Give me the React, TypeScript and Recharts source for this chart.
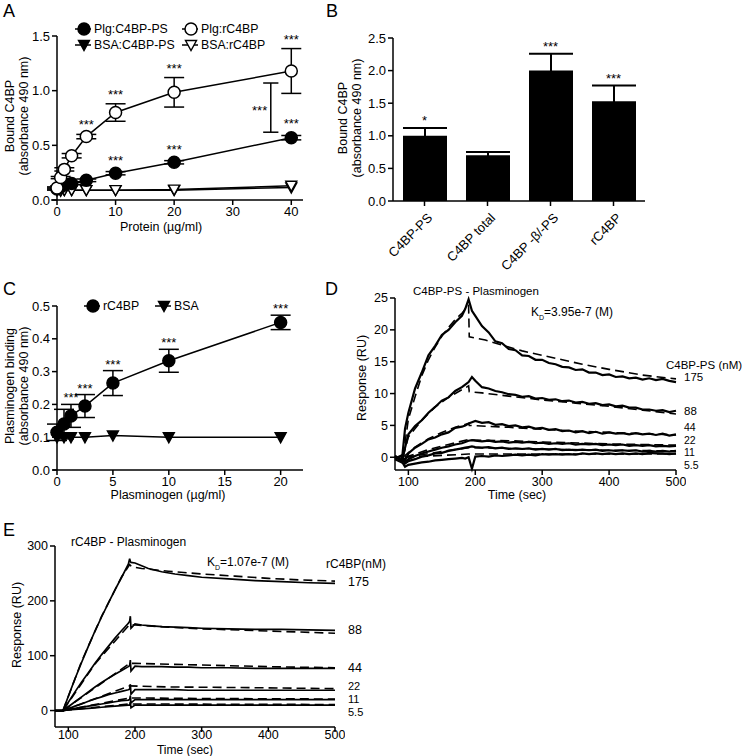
import React from 'react';
import {
  LineChart, Line, XAxis, YAxis, ErrorBar, LabelList, ReferenceLine, ReferenceDot,
  ComposedChart, Bar,
} from 'recharts';

const FONT = '"Liberation Sans", Arial, Helvetica, sans-serif';

// ---- A: C4BP binding to plasminogen (ELISA) ----
const aProtein = [0, 0.625, 1.25, 2.5, 5, 10, 20, 40];
const aPlgC4bpPs = [0.1, 0.12, 0.14, 0.15, 0.18, 0.245, 0.345, 0.57];
const aPlgC4bpPsErr = [0.01, 0.01, 0.01, 0.01, 0.012, 0.015, 0.015, 0.02];
const aPlgC4bpPsSig = ['', '', '', '', '', '***', '***', '***'];
const aPlgRc4bp = [0.11, 0.205, 0.28, 0.405, 0.58, 0.8, 0.985, 1.18];
const aPlgRc4bpErr = [0.01, 0.01, 0.015, 0.02, 0.02, 0.08, 0.135, 0.205];
const aPlgRc4bpSig = ['', '', '', '', '***', '***', '***', '***'];
const aBsaC4bpPs = [0.09, 0.09, 0.09, 0.09, 0.09, 0.09, 0.09, 0.115];
const aBsaRc4bp = [0.09, 0.085, 0.09, 0.09, 0.09, 0.09, 0.095, 0.13];
const aXTicks = [0, 10, 20, 30, 40];
const aYTicks = [0, 0.5, 1, 1.5];
const aBracket = { x: 36.5, low: 0.62, high: 1.07, cap: 1.3, sigX: 34.6, sigY: 0.82 };

// ---- B: C4BP forms ----
const bForms = ['C4BP-PS', 'C4BP total', 'C4BP -β/-PS', 'rC4BP'];
const bBound = [1.0, 0.7, 2.0, 1.53];
const bErr = [0.12, 0.05, 0.26, 0.24];
const bSig = ['*', '', '***', '***'];
const bYTicks = [0, 0.5, 1, 1.5, 2, 2.5];

// ---- C: plasminogen binding to rC4BP ----
const cPlg = [0, 0.625, 1.25, 2.5, 5, 10, 20];
const cRc4bp = [0.115, 0.14, 0.165, 0.195, 0.265, 0.333, 0.45];
const cRc4bpErr = [0.025, 0.045, 0.035, 0.035, 0.038, 0.035, 0.022];
const cRc4bpSig = ['', '', '***', '***', '***', '***', '***'];
const cBsa = [0.1, 0.1, 0.1, 0.1, 0.105, 0.1, 0.1];
const cXTicks = [0, 5, 10, 15, 20];
const cYTicks = [0, 0.1, 0.2, 0.3, 0.4, 0.5];

// ---- D: SPR, C4BP-PS over plasminogen ----
const tD = [80, 90, 95, 100, 110, 120, 130, 140, 150, 160, 170, 180, 185, 190, 195, 200, 210, 220, 230, 240, 250, 260, 270, 280, 290, 300, 310, 320, 330, 340, 350, 360, 370, 380, 390, 400, 410, 420, 430, 440, 450, 460, 470, 480, 490, 500];
const d175 = [-0.3, -0.8, 4.5, 7.0, 10.8, 13.3, 16.0, 17.5, 19.2, 20.0, 21.2, 22.2, 23.3, 24.8, 23.0, 22.2, 20.6, 19.6, 18.2, 17.9, 17.0, 16.8, 16.0, 15.9, 15.3, 15.3, 14.8, 14.6, 14.2, 14.1, 13.7, 13.8, 13.3, 13.3, 12.9, 13.0, 12.6, 12.7, 12.4, 12.5, 12.2, 12.4, 12.1, 12.3, 12.0, 11.8];
const d88 = [0.2, -0.6, 1.5, 3.6, 4.9, 5.8, 7.0, 7.9, 8.9, 9.4, 10.4, 11.0, 11.4, 11.8, 12.6, 12.0, 11.0, 10.8, 10.4, 10.2, 9.9, 9.8, 9.5, 9.6, 9.2, 9.3, 9.0, 9.1, 8.8, 8.9, 8.6, 8.7, 8.4, 8.5, 8.2, 8.3, 8.0, 8.1, 7.8, 7.8, 7.5, 7.5, 7.3, 7.4, 7.1, 7.3];
const d44 = [-0.2, 0.3, -0.5, 0.6, 1.5, 2.1, 2.8, 3.1, 3.6, 3.9, 4.6, 4.8, 5.0, 5.3, 5.5, 5.7, 5.4, 5.5, 5.1, 5.2, 4.9, 5.0, 4.7, 4.8, 4.5, 4.6, 4.3, 4.4, 4.1, 4.2, 3.9, 4.1, 3.8, 4.0, 3.7, 3.9, 3.7, 3.8, 3.6, 3.8, 3.6, 3.7, 3.5, 3.7, 3.4, 3.6];
const d22 = [0.2, -0.4, -0.8, -0.3, 0.2, 0.6, 0.9, 1.2, 1.5, 1.7, 2.0, 2.2, 2.4, 2.6, 2.7, 2.6, 2.5, 2.6, 2.4, 2.5, 2.3, 2.4, 2.3, 2.4, 2.2, 2.3, 2.1, 2.2, 2.1, 2.2, 2.0, 2.1, 2.0, 2.1, 1.9, 2.0, 1.9, 2.0, 1.8, 1.9, 1.8, 1.9, 1.7, 1.8, 1.7, 1.8];
const d11 = [-0.3, 0.2, -1.0, -0.6, -0.3, 0.1, 0.3, 0.6, 0.7, 1.0, 1.2, 1.4, 1.5, 1.6, 1.7, 1.6, 1.5, 1.6, 1.4, 1.5, 1.3, 1.4, 1.3, 1.4, 1.2, 1.3, 1.2, 1.3, 1.1, 1.2, 1.1, 1.2, 1.1, 1.2, 1.0, 1.1, 1.0, 1.1, 1.0, 1.1, 0.9, 1.0, 0.9, 1.0, 0.9, 1.0];
const d5_5 = [0.1, -0.6, -1.5, -1.2, -1.0, -0.8, -0.7, -0.5, -0.4, -0.3, -0.2, -0.1, -0.2, 0.0, -1.8, 0.1, 0.2, 0.1, 0.3, 0.2, 0.3, 0.4, 0.3, 0.4, 0.3, 0.5, 0.4, 0.5, 0.4, 0.5, 0.4, 0.6, 0.5, 0.6, 0.5, 0.6, 0.5, 0.6, 0.5, 0.6, 0.5, 0.7, 0.6, 0.6, 0.5, 0.6];
// fitted curves (1:1 Langmuir)
const dFitT175 = [92, 100, 110, 120, 130, 140, 150, 160, 170, 180, 190, 191, 215, 240, 270, 300, 330, 360, 400, 450, 500];
const dFit175 = [0, 6, 9.5, 12.8, 15.3, 17.3, 19, 20.4, 21.6, 22.6, 23.8, 18.9, 18.4, 17.6, 16.7, 16.0, 15.3, 14.6, 13.8, 12.9, 12.3];
const dFitT88 = [92, 100, 120, 140, 160, 180, 190, 191, 210, 250, 300, 350, 400, 450, 500];
const dFit88 = [0, 3.2, 5.8, 7.9, 9.4, 10.6, 11.2, 10.3, 10.1, 9.6, 9.0, 8.5, 8.0, 7.4, 6.8];
const dFitT44 = [92, 110, 130, 150, 170, 190, 191, 250, 300, 350, 400, 450, 500];
const dFit44 = [0, 1.6, 2.9, 3.9, 4.7, 5.3, 5.0, 4.7, 4.4, 4.1, 3.9, 3.7, 3.5];
const dFitT22 = [95, 130, 160, 190, 191, 250, 300, 400, 500];
const dFit22 = [0, 1.2, 2.0, 2.8, 2.7, 2.6, 2.4, 2.1, 1.9];
const dFitT11 = [95, 150, 190, 191, 300, 400, 500];
const dFit11 = [0, 0.9, 1.5, 1.5, 1.3, 1.1, 1.0];
const dFitT5_5 = [95, 190, 300, 500];
const dFit5_5 = [0, 0.5, 0.5, 0.5];
const dXTicks = [100, 200, 300, 400, 500];
const dYTicks = [0, 5, 10, 15, 20, 25];

// ---- E: SPR, rC4BP over plasminogen ----
const tE = [80, 92, 100, 110, 120, 130, 140, 150, 160, 170, 180, 190, 192, 193, 194, 200, 210, 220, 240, 260, 280, 300, 340, 380, 420, 460, 500];
const e175 = [0, 0, 26, 58, 88, 117, 145, 171, 196, 220, 243, 267, 277, 272, 270, 269, 264, 259, 253, 249, 246, 243, 240, 237, 235, 233, 232];
const e88 = [0, 0, 15, 34, 52, 69, 86, 102, 117, 132, 146, 159, 163, 172, 150, 158, 156, 155, 153, 152, 151, 150, 149, 148, 148, 147, 146];
const e44 = [0, 0, 7, 16, 25, 34, 43, 51, 59, 66, 73, 80, 82, 92, 72, 81, 80, 80, 80, 79, 79, 78, 78, 77, 77, 77, 77];
const e22 = [0, 0, 3, 8, 12, 17, 21, 25, 29, 32, 35, 38, 39, 48, 30, 38, 38, 38, 38, 38, 37, 37, 37, 37, 37, 37, 37];
const e11 = [0, 0, 2, 4, 6, 8, 10, 12, 14, 16, 18, 19, 20, 27, 14, 20, 20, 20, 20, 20, 20, 20, 20, 20, 20, 20, 20];
const e5_5 = [0, 0, 1, 2, 3, 4, 5, 6, 7, 8, 9, 10, 10, 16, 5, 10, 10, 10, 10, 10, 10, 10, 10, 10, 10, 10, 10];
const eFitT175 = [92, 120, 150, 180, 192, 195, 210, 250, 300, 350, 400, 450, 500];
const eFit175 = [0, 90, 172, 244, 266, 262, 259, 254, 249, 245, 241, 238, 236];
const eFitT88 = [92, 140, 192, 200, 250, 300, 400, 500];
const eFit88 = [0, 85, 157, 156, 152, 149, 145, 141];
const eFitT44 = [92, 192, 200, 300, 400, 500];
const eFit44 = [0, 86, 86, 83, 80, 78];
const eFitT22 = [92, 192, 250, 350, 500];
const eFit22 = [0, 45, 43, 42, 40];
const eFitT11 = [92, 192, 300, 500];
const eFit11 = [0, 23, 22, 21];
const eFitT5_5 = [92, 192, 500];
const eFit5_5 = [0, 12, 11];
const eXTicks = [100, 200, 300, 400, 500];
const eYTicks = [0, 100, 200, 300];

// build tables
const aData = aProtein.map((x, i) => ({
  x,
  plgPs: aPlgC4bpPs[i], plgPsErr: aPlgC4bpPsErr[i], plgPsSig: aPlgC4bpPsSig[i],
  plgPsTop: aPlgC4bpPs[i] + aPlgC4bpPsErr[i],
  plgR: aPlgRc4bp[i], plgRErr: aPlgRc4bpErr[i], plgRSig: aPlgRc4bpSig[i],
  plgRTop: aPlgRc4bp[i] + aPlgRc4bpErr[i],
  bsaPs: aBsaC4bpPs[i], bsaR: aBsaRc4bp[i],
}));
const bData = bForms.map((name, i) => ({ name, v: bBound[i], err: bErr[i], sig: bSig[i], top: bBound[i] + bErr[i] }));
const cData = cPlg.map((x, i) => ({
  x, r: cRc4bp[i], rErr: cRc4bpErr[i], rSig: cRc4bpSig[i], rTop: cRc4bp[i] + cRc4bpErr[i], bsa: cBsa[i],
}));
const series = (t: number[], v: number[]) => t.map((tt, i) => ({ t: tt, v: v[i] }));

const dCurves = [d175, d88, d44, d22, d11, d5_5].map((v) => series(tD, v));
const dFits = [
  series(dFitT175, dFit175), series(dFitT88, dFit88), series(dFitT44, dFit44),
  series(dFitT22, dFit22), series(dFitT11, dFit11), series(dFitT5_5, dFit5_5),
];
const eCurves = [e175, e88, e44, e22, e11, e5_5].map((v) => series(tE, v));
const eFits = [
  series(eFitT175, eFit175), series(eFitT88, eFit88), series(eFitT44, eFit44),
  series(eFitT22, eFit22), series(eFitT11, eFit11), series(eFitT5_5, eFit5_5),
];

const axisStyle = (fs: number, dy = 0) => ({
  axisLine: { stroke: '#000', strokeWidth: 1.5 },
  tickLine: { stroke: '#000', strokeWidth: 1.5 },
  tick: { fill: '#000', fontSize: fs, fontFamily: FONT, dy },
  tickSize: 5,
  interval: 0 as const,
});

// markers
const circleMk = (cx: number, cy: number, filled: boolean, key?: any) => (
  <circle key={key} cx={cx} cy={cy} r={6} fill={filled ? '#000' : '#fff'} stroke="#000" strokeWidth={1.5} />
);
const triMk = (cx: number, cy: number, filled: boolean, key?: any) => (
  <path key={key} d={`M${cx - 5.5},${cy - 4.5}L${cx + 5.5},${cy - 4.5}L${cx},${cy + 5.5}Z`}
    fill={filled ? '#000' : '#fff'} stroke="#000" strokeWidth={1.4} />
);
const dotFn = (kind: 'circle' | 'tri', filled: boolean) => (p: any) => {
  if (p.cx == null || p.cy == null) return <g key={p.index} />;
  return kind === 'circle' ? circleMk(p.cx, p.cy, filled, p.index) : triMk(p.cx, p.cy, filled, p.index);
};

const starStyle = { fill: '#000', fontSize: 13, fontFamily: FONT };

const Txt = ({ x, y, size = 13, children, center = false, rotate = false, lh = 1.15 }: any) => (
  <div
    style={{
      position: 'absolute', left: x, top: y, fontSize: size, lineHeight: lh, whiteSpace: 'nowrap',
      textAlign: 'center', color: '#000',
      transform: rotate ? 'translate(-50%,-50%) rotate(-90deg)' : center ? 'translate(-50%,-50%)' : 'translate(0,-50%)',
    }}
  >
    {children}
  </div>
);

const LegendItem = ({ x, y, kind, filled, label }: any) => (
  <div style={{ position: 'absolute', left: x, top: y, transform: 'translateY(-50%)', display: 'flex', alignItems: 'center', fontSize: 12.3, lineHeight: 1 }}>
    <svg width={16} height={14}>
      <line x1={0} y1={7} x2={16} y2={7} stroke="#000" strokeWidth={1.5} />
      {kind === 'circle' ? circleMk(9, 7, filled) : triMk(9, 7, filled)}
    </svg>
    <span style={{ marginLeft: 3 }}>{label}</span>
  </div>
);

const PanelA = () => (
  <div style={{ position: 'absolute', left: 7, top: 24 }}>
    <LineChart width={304} height={206} data={aData} margin={{ top: 12, right: 8, bottom: 0, left: 0 }}>
      <XAxis type="number" dataKey="x" domain={[0, 42]} ticks={aXTicks} height={30} {...axisStyle(13)} />
      <YAxis type="number" domain={[0, 1.5]} ticks={aYTicks} width={50} tickFormatter={(v: number) => v.toFixed(1)} {...axisStyle(13)} />
      <ReferenceLine segment={[{ x: -1, y: 0 }, { x: 0, y: 0 }]} stroke="#000" strokeWidth={1.5} ifOverflow="visible" />
      <Line dataKey="bsaPs" stroke="#000" strokeWidth={1.5} dot={dotFn('tri', true)} activeDot={false} isAnimationActive={false} />
      <Line dataKey="bsaR" stroke="#000" strokeWidth={1.5} dot={dotFn('tri', false)} activeDot={false} isAnimationActive={false} />
      <Line dataKey="plgPs" stroke="#000" strokeWidth={1.5} dot={dotFn('circle', true)} activeDot={false} isAnimationActive={false}>
        <ErrorBar dataKey="plgPsErr" width={10} stroke="#000" strokeWidth={1.5} direction="y" />
      </Line>
      <Line dataKey="plgR" stroke="#000" strokeWidth={1.5} dot={dotFn('circle', false)} activeDot={false} isAnimationActive={false}>
        <ErrorBar dataKey="plgRErr" width={10} stroke="#000" strokeWidth={1.5} direction="y" />
      </Line>
      <Line dataKey="plgPsTop" stroke="none" dot={false} activeDot={false} isAnimationActive={false}>
        <LabelList dataKey="plgPsSig" position="top" offset={7} style={starStyle} />
      </Line>
      <Line dataKey="plgRTop" stroke="none" dot={false} activeDot={false} isAnimationActive={false}>
        <LabelList dataKey="plgRSig" position="top" offset={5} style={starStyle} />
      </Line>
      <ReferenceLine segment={[{ x: aBracket.x, y: aBracket.low }, { x: aBracket.x, y: aBracket.high }]} stroke="#000" strokeWidth={1.5} />
      <ReferenceLine segment={[{ x: aBracket.x - aBracket.cap, y: aBracket.high }, { x: aBracket.x + aBracket.cap, y: aBracket.high }]} stroke="#000" strokeWidth={1.5} />
      <ReferenceLine segment={[{ x: aBracket.x - aBracket.cap, y: aBracket.low }, { x: aBracket.x + aBracket.cap, y: aBracket.low }]} stroke="#000" strokeWidth={1.5} />
      <ReferenceDot x={aBracket.sigX} y={aBracket.sigY} r={0} fill="none" stroke="none"
        label={{ value: '***', position: 'center', ...starStyle }} />
    </LineChart>
  </div>
);

const BTick = ({ x, y, payload }: any) => (
  <g transform={`translate(${x + 2},${y + 4})`}>
    <text textAnchor="end" transform="rotate(-45)" dy="0.72em" fill="#000" fontSize={13} fontFamily={FONT}>
      {payload.value}
    </text>
  </g>
);

const PanelB = () => (
  <div style={{ position: 'absolute', left: 343, top: 26 }}>
    <ComposedChart width={312} height={260} data={bData} margin={{ top: 12, right: 10, bottom: 0, left: 0 }}>
      <XAxis dataKey="name" height={85} {...axisStyle(13)} tick={<BTick />} />
      <YAxis type="number" domain={[0, 2.5]} ticks={bYTicks} width={50} tickFormatter={(v: number) => v.toFixed(1)} {...axisStyle(13)} />
      <Bar dataKey="v" fill="#000" barSize={44} isAnimationActive={false}>
        <ErrorBar dataKey="err" width={22} stroke="#000" strokeWidth={2} direction="y" />
      </Bar>
      <Line dataKey="top" stroke="none" dot={false} activeDot={false} isAnimationActive={false}>
        <LabelList dataKey="sig" position="top" offset={3} style={starStyle} />
      </Line>
    </ComposedChart>
  </div>
);

const PanelC = () => (
  <div style={{ position: 'absolute', left: 7, top: 294 }}>
    <LineChart width={304} height={206} data={cData} margin={{ top: 12, right: 8, bottom: 0, left: 0 }}>
      <XAxis type="number" dataKey="x" domain={[0, 22]} ticks={cXTicks} height={30} {...axisStyle(13)} />
      <YAxis type="number" domain={[0, 0.5]} ticks={cYTicks} width={50} tickFormatter={(v: number) => v.toFixed(1)} {...axisStyle(13)} />
      <ReferenceLine segment={[{ x: -0.4, y: 0 }, { x: 0, y: 0 }]} stroke="#000" strokeWidth={1.5} ifOverflow="visible" />
      <Line dataKey="bsa" stroke="#000" strokeWidth={1.5} dot={dotFn('tri', true)} activeDot={false} isAnimationActive={false} />
      <Line dataKey="r" stroke="#000" strokeWidth={1.5} dot={dotFn('circle', true)} activeDot={false} isAnimationActive={false}>
        <ErrorBar dataKey="rErr" width={10} stroke="#000" strokeWidth={1.5} direction="y" />
      </Line>
      <Line dataKey="rTop" stroke="none" dot={false} activeDot={false} isAnimationActive={false}>
        <LabelList dataKey="rSig" position="top" offset={2} style={starStyle} />
      </Line>
    </LineChart>
  </div>
);

const SprPanel = ({ left, top, width, height, plotH, domain, xTicks, yTicks, curves, fits, fs, xdy, solidW }: any) => (
  <div style={{ position: 'absolute', left, top }}>
    <LineChart width={width} height={height} margin={{ top: 12, right: 10, bottom: 0, left: 0 }}>
      <XAxis type="number" dataKey="t" domain={[80, 500]} ticks={xTicks} height={height - 12 - plotH} {...axisStyle(fs, xdy)} />
      <YAxis type="number" dataKey="v" domain={domain} ticks={yTicks} width={50} {...axisStyle(fs)} />
      {curves.map((d: any, i: number) => (
        <Line key={`c${i}`} data={d} dataKey="v" stroke="#000" strokeWidth={solidW} dot={false} activeDot={false} isAnimationActive={false} />
      ))}
      {fits.map((d: any, i: number) => (
        <Line key={`f${i}`} data={d} dataKey="v" stroke="#000" strokeWidth={1.6} strokeDasharray="9 5" dot={false} activeDot={false} isAnimationActive={false} />
      ))}
    </LineChart>
  </div>
);

export default function App() {
  return (
    <div style={{ position: 'absolute', left: 0, top: 0, width: 745, height: 756, background: '#fff', fontFamily: FONT, color: '#000', overflow: 'hidden' }}>
      <PanelA />
      <PanelB />
      <PanelC />
      <SprPanel left={345} top={286} width={341} height={214} plotH={172} domain={[-2, 25]}
        xTicks={dXTicks} yTicks={dYTicks} curves={dCurves} fits={dFits} fs={12.5} xdy={0} solidW={2.2} />
      <SprPanel left={5} top={534} width={340} height={221} plotH={181} domain={[-30, 300]}
        xTicks={eXTicks} yTicks={eYTicks} curves={eCurves} fits={eFits} fs={12.5} xdy={-4} solidW={1.7} />

      {/* panel letters */}
      <Txt x={3} y={11} size={18}>A</Txt>
      <Txt x={326} y={11} size={18}>B</Txt>
      <Txt x={3} y={289} size={18}>C</Txt>
      <Txt x={325} y={289} size={18}>D</Txt>
      <Txt x={3} y={530} size={18}>E</Txt>

      {/* A */}
      <LegendItem x={75} y={29} kind="circle" filled label="Plg:C4BP-PS" />
      <LegendItem x={182} y={29} kind="circle" filled={false} label="Plg:rC4BP" />
      <LegendItem x={75} y={45} kind="tri" filled label="BSA:C4BP-PS" />
      <LegendItem x={182} y={45} kind="tri" filled={false} label="BSA:rC4BP" />
      <Txt x={17} y={116} size={12.5} rotate>Bound C4BP<br />(absorbance 490 nm)</Txt>
      <Txt x={161} y={227} size={12.5} center>Protein (µg/ml)</Txt>

      {/* B */}
      <Txt x={350} y={118} size={12.5} rotate>Bound C4BP<br />(absorbance 490 nm)</Txt>

      {/* C */}
      <LegendItem x={84} y={306} kind="circle" filled label="rC4BP" />
      <LegendItem x={155} y={306} kind="tri" filled label="BSA" />
      <Txt x={17} y={386} size={12.5} rotate>Plasminogen binding<br />(absorbance 490 nm)</Txt>
      <Txt x={168} y={495} size={12.5} center>Plasminogen (µg/ml)</Txt>

      {/* D */}
      <Txt x={362} y={378} size={12.5} rotate>Response (RU)</Txt>
      <Txt x={517} y={495} size={12.5} center>Time (sec)</Txt>
      <Txt x={413} y={292} size={11.5}>C4BP-PS - Plasminogen</Txt>
      <Txt x={531} y={314} size={12}>K<sub style={{ fontSize: 7 }}>D</sub>=3.95e-7 (M)</Txt>
      <Txt x={666} y={366} size={11.5} lh={1}>C4BP-PS (nM)</Txt>
      <Txt x={684} y={378} size={11.5} lh={1}>175</Txt>
      <Txt x={684} y={412} size={11.5} lh={1}>88</Txt>
      <Txt x={684} y={427} size={10.5} lh={1}>44</Txt>
      <Txt x={684} y={439.5} size={10.5} lh={1}>22</Txt>
      <Txt x={684} y={452} size={10.5} lh={1}>11</Txt>
      <Txt x={684} y={464.5} size={10.5} lh={1}>5.5</Txt>

      {/* E */}
      <Txt x={17} y={625} size={12.5} rotate>Response (RU)</Txt>
      <Txt x={185} y={750} size={12} lh={1}>
        <span style={{ position: 'relative', left: '-50%' }}>Time (sec)</span>
      </Txt>
      <Txt x={71} y={543} size={12}>rC4BP - Plasminogen</Txt>
      <Txt x={207} y={564} size={12}>K<sub style={{ fontSize: 7 }}>D</sub>=1.07e-7 (M)</Txt>
      <Txt x={326} y={565} size={12}>rC4BP(nM)</Txt>
      <Txt x={348} y={582} size={12.5}>175</Txt>
      <Txt x={348} y={630} size={12.5}>88</Txt>
      <Txt x={348} y={668} size={12.5}>44</Txt>
      <Txt x={348} y={685.5} size={11} lh={1}>22</Txt>
      <Txt x={348} y={698.5} size={11} lh={1}>11</Txt>
      <Txt x={348} y={711.5} size={11} lh={1}>5.5</Txt>
    </div>
  );
}
